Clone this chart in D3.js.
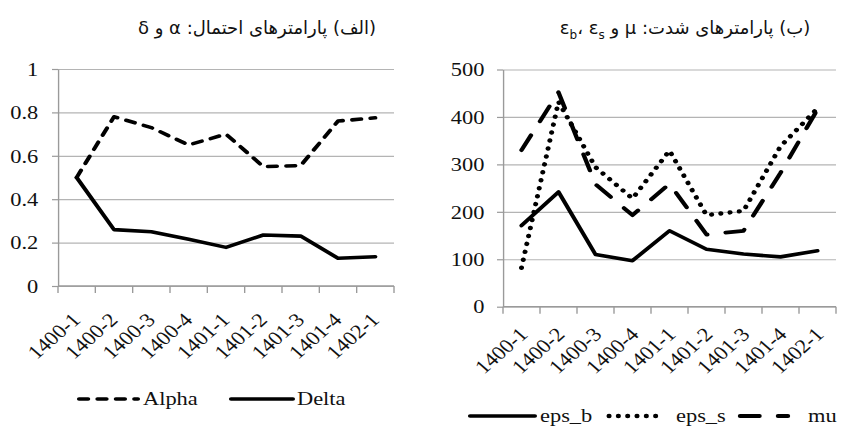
<!DOCTYPE html>
<html>
<head>
<meta charset="utf-8">
<script src="https://cdn.jsdelivr.net/npm/d3@7"></script>
<style>
  body { margin: 0; background: #fff; }
  #chart { position: relative; width: 868px; height: 431px; overflow: hidden; }
  svg text { font-family: "Liberation Serif", "Times New Roman", "DejaVu Serif", serif; }
  .title {
    position: absolute;
    top: 17px;
    font-family: "DejaVu Sans", sans-serif;
    font-size: 18px;
    color: #111;
    white-space: nowrap;
    direction: rtl;
  }
  .title sub { font-size: 12px; }
</style>
</head>
<body>
<div id="chart"></div>
<script>
// the reference image is a bit stretched sideways, so the drawing is too
var SX = 1.15;

// Data
var categories = ["1400-1", "1400-2", "1400-3", "1400-4", "1401-1", "1401-2", "1401-3", "1401-4", "1402-1"];

var alpha = [0.50, 0.78, 0.73, 0.65, 0.70, 0.55, 0.555, 0.76, 0.775];
var delta = [0.50, 0.26, 0.25, 0.215, 0.178, 0.235, 0.23, 0.128, 0.135];

var epsB = [171, 242, 110, 97, 160, 121, 111, 105, 118];
var epsS = [82, 432, 294, 228, 329, 193, 202, 338, 418];
var mu   = [330, 452, 258, 193, 259, 152, 160, 282, 416];

var probTicks = [0, 0.2, 0.4, 0.6, 0.8, 1];
var intensityTicks = [0, 100, 200, 300, 400, 500];

// line looks
var dashes = {
  Alpha: "8,8",
  Delta: null,
  eps_b: null,
  eps_s: "0.1,8",
  mu: "17,16"
};
var widths = { Alpha: 3.6, Delta: 3.6, eps_b: 3.6, eps_s: 4.4, mu: 3.8 };

var chart = d3.select("#chart");
var svg = chart.append("svg")
  .attr("width", 868)
  .attr("height", 431);

var root = svg.append("g")
  .attr("transform", "scale(" + SX + ",1)");

function drawPanel(cfg) {
  // cfg.left / cfg.right are in screen pixels
  var x = d3.scaleBand()
    .domain(categories)
    .range([cfg.left / SX, cfg.right / SX]);
  var y = d3.scaleLinear()
    .domain([cfg.ticks[0], cfg.ticks[cfg.ticks.length - 1]])
    .range([cfg.bottom, cfg.top]);

  var x0 = x.range()[0], x1 = x.range()[1];
  var g = root.append("g");

  // gridlines
  g.append("g")
    .attr("transform", "translate(" + x0 + ",0)")
    .call(d3.axisLeft(y).tickValues(cfg.ticks).tickSize(-(x1 - x0)).tickFormat(""))
    .call(function(s) { s.select(".domain").remove(); })
    .selectAll("line")
    .attr("stroke", "#b4b4b4")
    .attr("stroke-width", 1.2);

  // y axis
  var yAxis = g.append("g")
    .attr("transform", "translate(" + x0 + ",0)")
    .call(d3.axisLeft(y)
      .tickValues(cfg.ticks)
      .tickSizeInner(6 / SX)
      .tickSizeOuter(0)
      .tickPadding(cfg.yPad)
      .tickFormat(function(d) { return String(d); }));
  yAxis.attr("font-family", null)
    .attr("font-size", 19.5);
  yAxis.select(".domain").attr("stroke", "#9a9a9a").attr("stroke-width", 1.2);
  yAxis.selectAll(".tick line").attr("stroke", "#9a9a9a").attr("stroke-width", 1.2);
  yAxis.selectAll(".tick text").attr("fill", "#111");

  // x axis line + ticks on the band edges (excel style)
  g.append("line")
    .attr("x1", x0).attr("x2", x1)
    .attr("y1", cfg.bottom).attr("y2", cfg.bottom)
    .attr("stroke", "#9a9a9a")
    .attr("stroke-width", 1.3);

  var edges = categories.map(function(c) { return x(c); }).concat([x1]);
  g.selectAll(".xtick")
    .data(edges)
    .enter()
    .append("line")
    .attr("class", "xtick")
    .attr("x1", function(d) { return d; })
    .attr("x2", function(d) { return d; })
    .attr("y1", cfg.bottom)
    .attr("y2", cfg.bottom + 7)
    .attr("stroke", "#9a9a9a")
    .attr("stroke-width", 1.2);

  g.selectAll(".xlabel")
    .data(categories)
    .enter()
    .append("text")
    .attr("class", "xlabel")
    .attr("transform", function(d) {
      var cx = x(d) + x.bandwidth() / 2 + cfg.labelDx / SX;
      return "translate(" + cx + "," + (cfg.bottom + cfg.labelDy) + ") rotate(-45)";
    })
    .attr("text-anchor", "end")
    .attr("font-size", 19.5)
    .attr("fill", "#111")
    .text(function(d) { return d; });

  // series lines
  var line = d3.line()
    .x(function(d, i) { return x(categories[i]) + x.bandwidth() / 2; })
    .y(function(d) { return y(d); });

  cfg.series.forEach(function(s) {
    g.append("path")
      .datum(s.values)
      .attr("d", line)
      .attr("fill", "none")
      .attr("stroke", "#000")
      .attr("stroke-width", widths[s.name])
      .attr("stroke-linejoin", "round")
      .attr("stroke-linecap", "round")
      .attr("stroke-dasharray", dashes[s.name]);
  });

  // legend
  var leg = g.append("g");
  cfg.legend.forEach(function(item) {
    leg.append("line")
      .attr("x1", item.x0 / SX).attr("x2", item.x1 / SX)
      .attr("y1", cfg.legendY).attr("y2", cfg.legendY)
      .attr("stroke", "#000")
      .attr("stroke-width", widths[item.name])
      .attr("stroke-linecap", "round")
      .attr("stroke-dasharray", dashes[item.name]);
    leg.append("text")
      .attr("x", item.tx / SX)
      .attr("y", cfg.legendY)
      .attr("dy", "0.33em")
      .attr("font-size", 19.5)
      .attr("fill", "#111")
      .text(item.name);
  });
}

// (a) probability parameters
drawPanel({
  left: 58, right: 394, top: 69, bottom: 286,
  ticks: probTicks,
  yPad: 12,
  labelDx: 5, labelDy: 35,
  series: [
    { name: "Alpha", values: alpha },
    { name: "Delta", values: delta }
  ],
  legendY: 399,
  legend: [
    { name: "Alpha", x0: 79, x1: 138, tx: 143 },
    { name: "Delta", x0: 231, x1: 293, tx: 297 }
  ]
});

// (b) intensity parameters
drawPanel({
  left: 503, right: 836, top: 69.5, bottom: 306.7,
  ticks: intensityTicks,
  yPad: 11,
  labelDx: 7.5, labelDy: 29,
  series: [
    { name: "eps_b", values: epsB },
    { name: "eps_s", values: epsS },
    { name: "mu", values: mu }
  ],
  legendY: 416,
  legend: [
    { name: "eps_b", x0: 470, x1: 535, tx: 540 },
    { name: "eps_s", x0: 609, x1: 656, tx: 676 },
    { name: "mu", x0: 740, x1: 788, tx: 808 }
  ]
});

// titles (persian, right-to-left)
chart.append("div")
  .attr("class", "title")
  .style("left", "257px")
  .style("transform", "translateX(-50%)")
  .html("(الف) پارامترهای احتمال: α و δ");

chart.append("div")
  .attr("class", "title")
  .style("left", "685px")
  .style("transform", "translateX(-50%)")
  .html("(ب) پارامترهای شدت: μ و <bdi dir=\"ltr\">ε<sub>b</sub>، ε<sub>s</sub></bdi>");
</script>
</body>
</html>
